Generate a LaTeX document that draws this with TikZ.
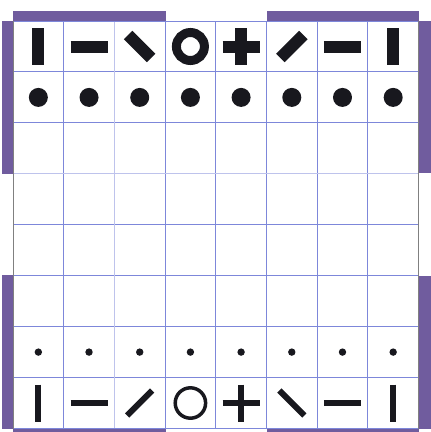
\documentclass[tikz,border=0pt]{standalone}
\definecolor{boardline}{RGB}{125,135,218}
\definecolor{edgebar}{RGB}{112,92,158}
\definecolor{ink}{RGB}{24,24,30}
\tikzset{
  vbar/.pic={\draw[pic actions] (0,-18.5)--(0,18.5);},
  hbar/.pic={\draw[pic actions] (-18.5,0)--(18.5,0);},
  bslash/.pic={\draw[pic actions] (-\diag,-\diag)--(\diag,\diag);},
  slash/.pic={\draw[pic actions] (-\diag,\diag)--(\diag,-\diag);},
  ring/.pic={\draw[pic actions,line width=\ringw] (0,0) circle[radius=\ringr];},
  cross/.pic={\draw[pic actions] (-18.5,0)--(18.5,0) (0,-18.5)--(0,18.5);}
}
\begin{document}
\begin{tikzpicture}[x=1pt,y=-1pt,
  gridline/.style={boardline,line width=.9pt},
  thickpiece/.style={ink,line width=12pt},
  thinpiece/.style={ink,line width=6pt}]
\useasboundingbox (0,0) rectangle (431,432);
% grid
\foreach \i in {1,...,7}
  \draw[gridline] ({13+50.69*\i},21)--({13+50.69*\i},428.5);
\foreach \j in {1,...,7}
  \draw[gridline] (13,{21+50.94*\j})--(418.5,{21+50.94*\j});
\draw[white,line width=1pt] ({13+50.69*2},21.5)--({13+50.69*2},428);
\draw[boardline!50,line width=.7pt] ({13+50.69*2},21)--({13+50.69*2},428.5);
\draw[white,line width=1pt] (13.5,{21+50.94*3})--(418,{21+50.94*3});
\draw[boardline!50,line width=.7pt] (13,{21+50.94*3})--(418.5,{21+50.94*3});
\draw[gridline] (13,21)--(418.5,21) (13,428.5)--(418.5,428.5);
\draw[gray,line width=.9pt] (13,21)--(13,428.5) (418.5,21)--(418.5,428.5);
% purple edge bars
\fill[edgebar] (13,11) rectangle (166,21);
\fill[edgebar] (267,11) rectangle (418.5,21);
\fill[edgebar] (13,429) rectangle (166,440);
\fill[edgebar] (267,429) rectangle (418.5,440);
\fill[edgebar] (2,21) rectangle (13,174);
\fill[edgebar] (2,275) rectangle (13,428.5);
\fill[edgebar] (419,21) rectangle (431,173);
\fill[edgebar] (419,276) rectangle (431,428.5);
% top row
\def\diag{11.5}\def\ringr{14}\def\ringw{9pt}
\foreach \p [count=\c] in {vbar,hbar,bslash,ring,cross,slash,hbar,vbar}
  \pic[thickpiece] at ({13+50.69*(\c-.5)},46.5) {\p};
\foreach \c in {1,...,8}
  \fill[ink] ({13+50.69*(\c-.5)},97.4) circle[radius=9.5];
% bottom row
\def\diag{12.5}\def\ringr{15.2}\def\ringw{3.5pt}
\foreach \c in {1,...,8}
  \fill[ink] ({13+50.69*(\c-.5)},352.1) circle[radius=3.7];
\foreach \p [count=\c] in {vbar,hbar,slash,ring,cross,bslash,hbar,vbar}
  \pic[thinpiece] at ({13+50.69*(\c-.5)},403) {\p};
\end{tikzpicture}
\end{document}
